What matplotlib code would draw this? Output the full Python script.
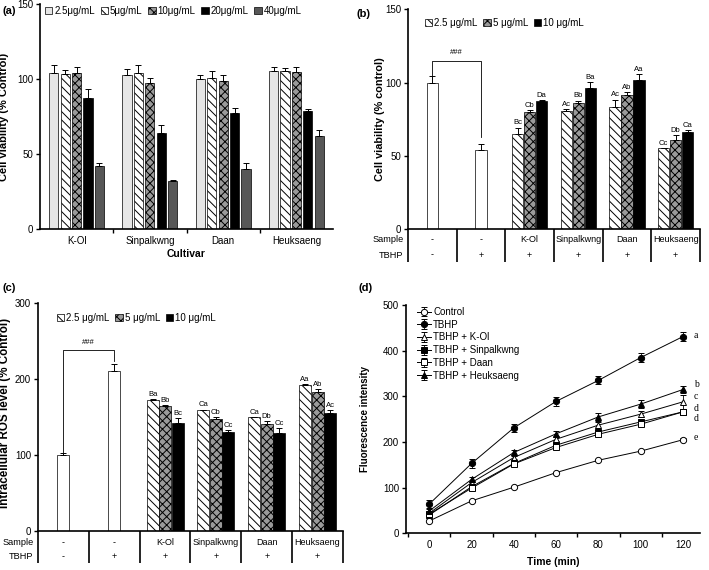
import matplotlib
matplotlib.use('Agg')
import matplotlib.pyplot as plt
import matplotlib.transforms as mtransforms
import numpy as np

plt.rcParams['font.family'] = ['Liberation Sans', 'DejaVu Sans']
plt.rcParams['hatch.linewidth'] = 0.7
plt.rcParams['axes.linewidth'] = 1.2

# ---- panel (a): cell viability, cultivar x dose ----
cultivars = ['K-Ol', 'Sinpalkwng', 'Daan', 'Heuksaeng']
doses_a = ['2.5μg/mL', '5μg/mL', '10μg/mL', '20μg/mL', '40μg/mL']
a_vals = [
    [104.5, 102.7, 100.0, 105.6],
    [103.5, 104.4, 100.7, 105.6],
    [104.5, 97.8, 99.1, 105.1],
    [87.5, 64.2, 77.8, 79.1],
    [42.4, 32.2, 40.2, 62.4],
]
a_errs = [
    [5.0, 4.2, 3.0, 2.8],
    [3.0, 5.0, 4.5, 2.2],
    [3.5, 3.0, 4.0, 3.0],
    [5.8, 5.0, 3.0, 1.3],
    [2.0, 0.4, 3.8, 3.6],
]

# ---- panels (b) and (c): groups below the axis ----
sample_row = ['-', '-', 'K-Ol', 'Sinpalkwng', 'Daan', 'Heuksaeng']
tbhp_row = ['-', '+', '+', '+', '+', '+']
doses_bc = ['2.5 μg/mL', '5 μg/mL', '10 μg/mL']

b_ctrl = [100.0, 54.0]
b_ctrl_err = [4.5, 4.3]
b_vals = [
    [65.0, 80.5, 83.6, 55.2],
    [80.0, 86.0, 91.8, 61.0],
    [87.3, 96.0, 102.0, 66.0],
]
b_errs = [
    [4.3, 1.5, 4.8, 0.3],
    [1.0, 1.7, 1.6, 3.2],
    [0.7, 4.5, 4.0, 1.6],
]
b_letters = [
    ['Bc', 'Ac', 'Ac', 'Cc'],
    ['Cb', 'Bb', 'Ab', 'Db'],
    ['Da', 'Ba', 'Aa', 'Ca'],
]

c_ctrl = [100.0, 210.0]
c_ctrl_err = [2.5, 10.0]
c_vals = [
    [173.0, 159.0, 149.6, 192.0],
    [165.0, 147.4, 141.2, 182.5],
    [141.7, 130.7, 129.4, 154.8],
]
c_errs = [
    [0.8, 0.8, 0.8, 0.8],
    [1.0, 3.0, 3.5, 4.0],
    [7.0, 2.0, 6.0, 4.5],
]
c_letters = [
    ['Ba', 'Ca', 'Ca', 'Aa'],
    ['Bb', 'Cb', 'Db', 'Ab'],
    ['Bc', 'Cc', 'Cc', 'Ac'],
]

# ---- panel (d): fluorescence over time ----
time_min = [0, 20, 40, 60, 80, 100, 120]
d_series = {
    'Control': [27, 71, 101, 133, 160, 180, 205],
    'TBHP': [64, 153, 231, 289, 335, 385, 431],
    'TBHP + K-Ol': [44, 111, 166, 206, 237, 261, 288],
    'TBHP + Sinpalkwng': [40, 102, 153, 193, 222, 244, 266],
    'TBHP + Daan': [42, 99, 152, 188, 217, 239, 266],
    'TBHP + Heuksaeng': [49, 118, 177, 218, 255, 283, 315],
}
d_errs = {
    'Control': [3, 2, 2, 2, 2, 2, 3],
    'TBHP': [9, 9, 9, 10, 9, 9, 9],
    'TBHP + K-Ol': [4, 4, 4, 4, 6, 6, 15],
    'TBHP + Sinpalkwng': [3, 3, 3, 4, 4, 4, 5],
    'TBHP + Daan': [3, 3, 3, 3, 3, 4, 5],
    'TBHP + Heuksaeng': [4, 5, 5, 5, 8, 8, 8],
}
d_letters = ['a', 'b', 'c', 'd', 'd', 'e']
d_letter_y = [434, 325, 299, 274, 252, 209]

# bar styles: (facecolor, hatch)
style_a = [('#e6e6e6', None), ('white', '\\\\\\\\'), ('#9a9a9a', 'xxxx'),
           ('black', None), ('#575757', None)]
style_bc = [('white', '\\\\\\\\'), ('#9a9a9a', 'xxxx'), ('black', None)]

TICK = 7

fig = plt.figure(figsize=(7.09, 5.70), dpi=100)
axA = fig.add_axes([40 / 709, 1 - 229.3 / 570, 293 / 709, 225 / 570])
axB = fig.add_axes([408 / 709, 1 - 229.3 / 570, 292 / 709, 220 / 570])
axC = fig.add_axes([38 / 709, 1 - 531 / 570, 305 / 709, 228 / 570])
axD = fig.add_axes([406 / 709, 1 - 533.3 / 570, 294 / 709, 228.3 / 570])

for ax in (axA, axB, axC, axD):
    ax.spines['top'].set_visible(False)
    ax.spines['right'].set_visible(False)
    ax.tick_params(axis='y', direction='out', length=3, width=1, labelsize=TICK, pad=2)


def draw_bars(ax, xs, vals, errs, face, hatch, width):
    ax.bar(xs, vals, width=width, color=face, edgecolor='black',
           linewidth=0.5, hatch=hatch)
    ax.errorbar(xs, vals, yerr=[np.zeros(len(vals)), errs], fmt='none',
                ecolor='black', elinewidth=0.7, capsize=2, capthick=0.7)


# ---------- (a) ----------
x = np.arange(len(cultivars))
step = 0.156
handles = []
for i, (face, hatch) in enumerate(style_a):
    xs = x + (i - 2) * step
    draw_bars(axA, xs, a_vals[i], a_errs[i], face, hatch, 0.125)
    handles.append(plt.Rectangle((0, 0), 1, 1, facecolor=face, edgecolor='black',
                                 linewidth=0.5, hatch=hatch))
axA.set_xlim(-0.5, 3.5)
axA.set_ylim(0, 150)
axA.set_yticks([0, 50, 100, 150])
axA.set_xticks(x)
axA.set_xticklabels(cultivars)
axA.set_xticks([0.5, 1.5, 2.5], minor=True)
axA.tick_params(axis='x', which='major', length=0, labelsize=TICK, pad=5)
axA.tick_params(axis='x', which='minor', length=3, width=1, direction='out')
axA.set_ylabel('Cell viability (% Control)', fontsize=8, fontweight='bold')
axA.yaxis.set_label_coords(-0.106, 0.5)
axA.set_xlabel('Cultivar', fontsize=7.5, fontweight='bold', labelpad=2)
axA.legend(handles, doses_a, ncol=5, loc='upper left', bbox_to_anchor=(0.01, 1.0),
           frameon=False, fontsize=7, handlelength=0.75, handleheight=0.75,
           handletextpad=0.2, columnspacing=0.6, borderpad=0.2, borderaxespad=0)


# ---------- (b) and (c) ----------
def grouped_panel(ax, ctrl, ctrl_err, vals, errs, letters, ymax, ystep,
                  bracket, ylabel, ysize, row_y, leg_xy, let_off):
    ax.set_xlim(-0.5, 5.5)
    ax.set_ylim(0, ymax)
    ax.set_yticks(np.arange(0, ymax + 1, ystep))
    ax.set_xticks([])
    w = 0.235
    draw_bars(ax, [0, 1], ctrl, ctrl_err, 'white', None, w)
    groups = np.arange(2, 6)
    handles = []
    for i, (face, hatch) in enumerate(style_bc):
        xs = groups + (i - 1) * 0.245
        draw_bars(ax, xs, vals[i], errs[i], face, hatch, w)
        for xx, v, e, lab in zip(xs, vals[i], errs[i], letters[i]):
            ax.text(xx, v + e + let_off, lab, ha='center', va='bottom', fontsize=5.5)
        handles.append(plt.Rectangle((0, 0), 1, 1, facecolor=face, edgecolor='black',
                                     linewidth=0.5, hatch=hatch))
    # significance bracket between control and TBHP
    y0, ytop, y1, ytxt = bracket
    ax.plot([0, 0, 1, 1], [y0, ytop, ytop, y1], color='black', lw=0.6)
    ax.text(0.5, ytxt, '###', ha='center', va='bottom', fontsize=5.5)
    ax.legend(handles, doses_bc, ncol=3, loc='center left', bbox_to_anchor=leg_xy,
              frameon=False, fontsize=7, handlelength=0.75, handleheight=0.75,
              handletextpad=0.2, columnspacing=0.6, borderpad=0, borderaxespad=0)
    ax.set_ylabel(ylabel, fontsize=ysize, fontweight='bold')
    # table below the axis
    trans = mtransforms.blended_transform_factory(ax.transData, ax.transAxes)
    s_y, t_y, bottom = row_y
    ax.plot([-0.5, -0.5], [0, bottom], transform=trans, color='black', lw=1.2,
            clip_on=False, solid_capstyle='butt')
    for sep in np.arange(0.5, 6, 1.0):
        ax.plot([sep, sep], [0, bottom], transform=trans, color='black', lw=1.2,
                clip_on=False, solid_capstyle='butt')
    for col, (s, t) in enumerate(zip(sample_row, tbhp_row)):
        ax.text(col, s_y, s, transform=trans, ha='center', va='center', fontsize=6.5)
        ax.text(col, t_y, t, transform=trans, ha='center', va='center', fontsize=6.5)
    ax.text(-0.59, s_y, 'Sample', transform=trans, ha='right', va='center', fontsize=6.6)
    ax.text(-0.59, t_y, 'TBHP', transform=trans, ha='right', va='center', fontsize=6.6)


grouped_panel(axB, b_ctrl, b_ctrl_err, b_vals, b_errs, b_letters, 150, 50,
              (104.8, 115, 63, 118), 'Cell viability (% control)', 7.8,
              (-0.045, -0.117, -0.147), (0.058, 0.938), 0.8)
axB.yaxis.set_label_coords(-0.079, 0.5)

grouped_panel(axC, c_ctrl, c_ctrl_err, c_vals, c_errs, c_letters, 300, 100,
              (103, 238, 224, 243), 'Intracellular ROS level (% Control)', 8.4,
              (-0.05, -0.113, -0.14), (0.062, 0.934), 1.5)
axC.yaxis.set_label_coords(-0.088, 0.52)

# ---------- (d) ----------
markers = {
    'Control': ('o', 'white'),
    'TBHP': ('o', 'black'),
    'TBHP + K-Ol': ('^', 'white'),
    'TBHP + Sinpalkwng': ('s', 'black'),
    'TBHP + Daan': ('s', 'white'),
    'TBHP + Heuksaeng': ('^', 'black'),
}
for name, vals in d_series.items():
    m, fc = markers[name]
    axD.errorbar(time_min, vals, yerr=d_errs[name], color='black', lw=0.7,
                 marker=m, markersize=4.5, markerfacecolor=fc,
                 markeredgecolor='black', markeredgewidth=0.7,
                 elinewidth=0.6, capsize=2, capthick=0.6, label=name)
for lab, yy in zip(d_letters, d_letter_y):
    axD.text(125, yy, lab, fontsize=7, family='Liberation Serif',
             ha='left', va='center')
axD.set_xlim(-11, 128)
axD.set_ylim(0, 500)
axD.set_yticks([0, 100, 200, 300, 400, 500])
axD.set_xticks(time_min)
axD.set_xticks(np.arange(-10, 121, 20), minor=True)
axD.tick_params(axis='x', which='major', length=0, labelsize=TICK, pad=5)
axD.tick_params(axis='x', which='minor', length=3, width=1, direction='out')
axD.set_ylabel('Fluorescence intensity', fontsize=7, fontweight='bold')
axD.yaxis.set_label_coords(-0.122, 0.5)
axD.set_xlabel('Time (min)', fontsize=7.5, fontweight='bold', labelpad=5)
axD.legend(loc='upper left', bbox_to_anchor=(0.03, 1.0), frameon=False,
           fontsize=7, handlelength=1.5, handletextpad=0.2, labelspacing=0.28,
           borderpad=0.2, borderaxespad=0)

# panel tags
fig.text(0.004, 0.99, '(a)', fontsize=8, fontweight='bold', va='top')
fig.text(0.503, 0.985, '(b)', fontsize=8, fontweight='bold', va='top')
fig.text(0.004, 0.503, '(c)', fontsize=8, fontweight='bold', va='top')
fig.text(0.506, 0.503, '(d)', fontsize=8, fontweight='bold', va='top')

fig.savefig('out.png', dpi=100)
